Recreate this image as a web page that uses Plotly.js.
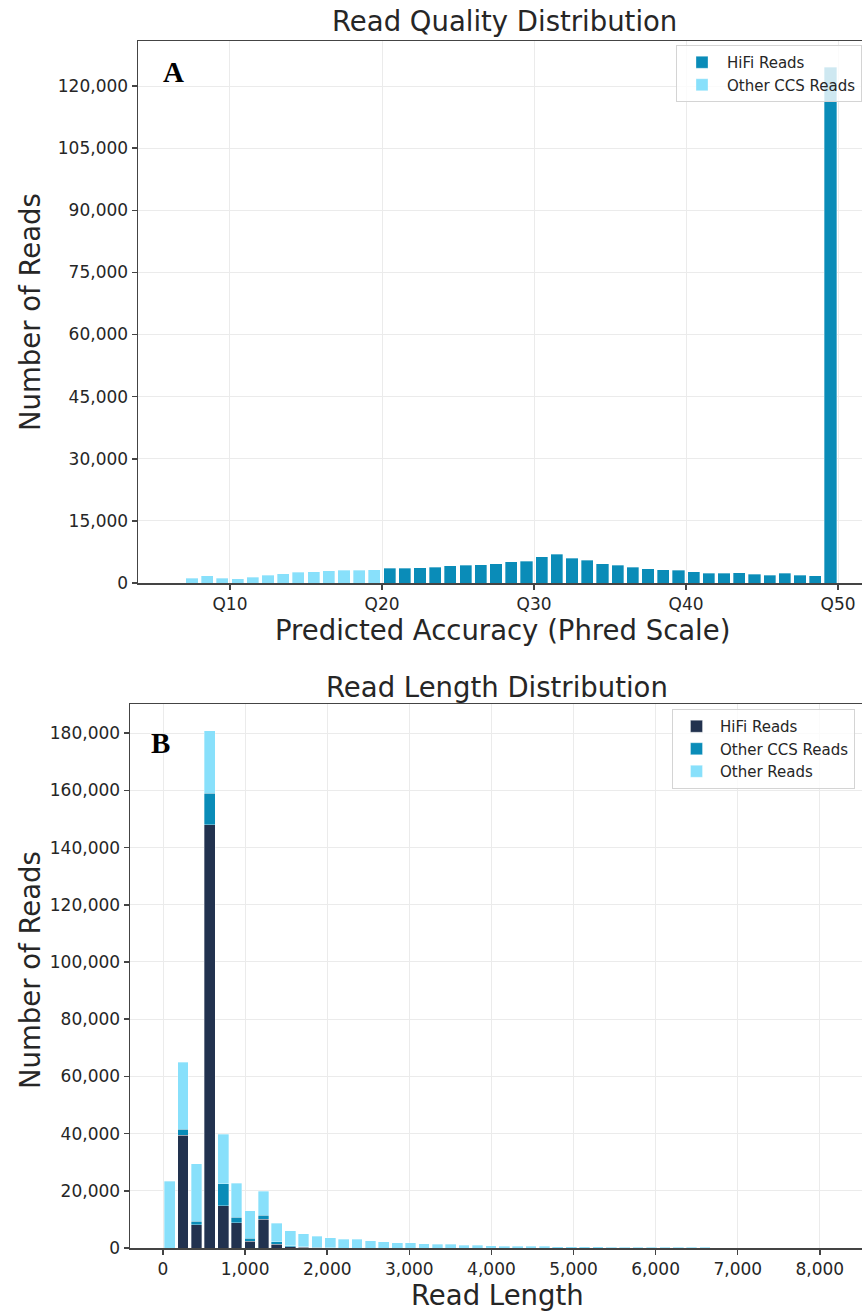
<!DOCTYPE html>
<html>
<head>
<meta charset="utf-8">
<script src="https://cdn.plot.ly/plotly-3.0.1.min.js"></script>
<style>
  html, body { margin: 0; padding: 0; overflow: hidden; background: #ffffff; }
  #chart { width: 880px; height: 1311px; }
</style>
</head>
<body>
<div id="chart"></div>
<script>
// ---- Panel A: read quality (Phred) histogram, one bin per Q value ----
const qOtherCcsBins = [7, 8, 9, 10, 11, 12, 13, 14, 15, 16, 17, 18, 19];
const qOtherCcsCounts = [1200, 1700, 1130, 1050, 1370, 1930, 2250, 2580, 2660, 2900, 3060, 3140, 3220];

const qHifiBins = [20, 21, 22, 23, 24, 25, 26, 27, 28, 29, 30, 31, 32, 33, 34,
                   35, 36, 37, 38, 39, 40, 41, 42, 43, 44, 45, 46, 47, 48, 49];
const qHifiCounts = [3540, 3540, 3700, 3860, 4190, 4270, 4350, 4700, 5150, 5310,
                     6280, 6920, 5960, 5470, 4670, 4270, 3860, 3460, 3220, 3060,
                     2660, 2410, 2410, 2490, 2090, 1850, 2330, 1930, 1770, 124500];

const qTickVals = [10, 20, 30, 40, 50];
const qTickText = ['Q10', 'Q20', 'Q30', 'Q40', 'Q50'];

// ---- Panel B: read length histogram (bins of equal width, stacked by read class) ----
const lengthBinWidth = 163;
const lenHifiCounts = [0, 39400, 8150, 147900, 14700, 8850, 2330, 10000, 1300, 500,
                       250, 150, 100, 0, 0, 0, 0, 0, 0, 0,
                       0, 0, 0, 0, 0, 0, 0, 0, 0, 0,
                       0, 0, 0, 0, 0, 0, 0, 0, 0, 0,
                       0, 0, 0, 0];
const lenOtherCcsCounts = [0, 2200, 1290, 11100, 7800, 1850, 1070, 1400, 800, 300,
                           150, 100, 0, 0, 0, 0, 0, 0, 0, 0,
                           0, 0, 0, 0, 0, 0, 0, 0, 0, 0,
                           0, 0, 0, 0, 0, 0, 0, 0, 0, 0,
                           0, 0, 0, 0];
const lenOtherReadCounts = [23400, 23300, 20060, 21800, 17250, 11900, 9600, 8500, 6640, 5250,
                            4500, 3830, 3400, 3030, 3030, 2560, 2100, 1860, 1750, 1520,
                            1400, 1280, 1050, 930, 820, 700, 700, 580, 580, 470,
                            470, 420, 400, 350, 330, 300, 280, 250, 230, 200,
                            180, 160, 140, 120];

// ---- styling ----
const COL_NAVY = '#22324f';
const COL_TEAL = '#0a8cb8';
const COL_LIGHT = '#88e0fb';
const FONT = 'DejaVu Sans, Verdana, sans-serif';
const TXT = '#262626';
const W = 880, H = 1311;

const px = v => v / W;            // horizontal pixel -> paper fraction
const py = v => 1 - v / H;        // vertical pixel (from top) -> paper fraction

const binCentre = (bins) => bins.map(b => b + 0.5);
const lenCentres = lenOtherReadCounts.map((_, i) => (i + 0.5) * lengthBinWidth);
const barEdge = { color: 'rgba(255,255,255,0.55)', width: 0.6 };

const traces = [
  { type: 'bar', name: 'HiFi Reads', x: binCentre(qHifiBins), y: qHifiCounts,
    width: 0.8, marker: { color: COL_TEAL, line: barEdge },
    xaxis: 'x', yaxis: 'y', legend: 'legend', hoverinfo: 'x+y' },
  { type: 'bar', name: 'Other CCS Reads', x: binCentre(qOtherCcsBins), y: qOtherCcsCounts,
    width: 0.8, marker: { color: COL_LIGHT, line: barEdge },
    xaxis: 'x', yaxis: 'y', legend: 'legend', hoverinfo: 'x+y' },

  { type: 'bar', name: 'HiFi Reads', x: lenCentres, y: lenHifiCounts,
    width: 0.8 * lengthBinWidth, marker: { color: COL_NAVY, line: barEdge },
    xaxis: 'x2', yaxis: 'y2', legend: 'legend2', hoverinfo: 'x+y' },
  { type: 'bar', name: 'Other CCS Reads', x: lenCentres, y: lenOtherCcsCounts,
    width: 0.8 * lengthBinWidth, marker: { color: COL_TEAL, line: barEdge },
    xaxis: 'x2', yaxis: 'y2', legend: 'legend2', hoverinfo: 'x+y' },
  { type: 'bar', name: 'Other Reads', x: lenCentres, y: lenOtherReadCounts,
    width: 0.8 * lengthBinWidth, marker: { color: COL_LIGHT, line: barEdge },
    xaxis: 'x2', yaxis: 'y2', legend: 'legend2', hoverinfo: 'x+y' }
];

const axisCommon = {
  showline: true, mirror: true, linecolor: '#444444', linewidth: 1.5,
  ticks: 'outside', ticklen: 5, tickwidth: 1.5, tickcolor: '#444444',
  showgrid: true, gridcolor: '#ebebeb', gridwidth: 1, zeroline: false,
  tickfont: { family: FONT, size: 17, color: TXT }
};

const legendCommon = {
  xanchor: 'left', yanchor: 'top', traceorder: 'normal',
  bgcolor: 'rgba(255,255,255,0.8)', bordercolor: '#d4d4d4', borderwidth: 1,
  font: { family: FONT, size: 15, color: TXT }
};

const TITLE_SIZE = 27.5;

const layout = {
  width: W, height: H,
  margin: { l: 0, r: 0, t: 0, b: 0 },
  paper_bgcolor: '#ffffff', plot_bgcolor: '#ffffff',
  barmode: 'stack', bargap: 0,
  font: { family: FONT, color: TXT },
  xaxis: Object.assign({}, axisCommon, {
    domain: [px(138), px(870)], range: [3.95, 52.1],
    tickvals: qTickVals, ticktext: qTickText, anchor: 'y'
  }),
  yaxis: Object.assign({}, axisCommon, {
    domain: [py(583), py(41)], range: [0, 130870],
    dtick: 15000, tickformat: ',d', anchor: 'x'
  }),
  xaxis2: Object.assign({}, axisCommon, {
    domain: [px(130), px(865)], range: [-402, 8550],
    dtick: 1000, tickformat: ',d', anchor: 'y2'
  }),
  yaxis2: Object.assign({}, axisCommon, {
    domain: [py(1248), py(704)], range: [0, 190200],
    dtick: 20000, tickformat: ',d', anchor: 'x2'
  }),
  legend: Object.assign({}, legendCommon, { x: px(676), y: py(45), itemwidth: 40 }),
  legend2: Object.assign({}, legendCommon, { x: px(672), y: py(709), itemwidth: 37 }),
  annotations: [
    { text: 'Read Quality Distribution', x: px(504), y: py(21), xref: 'paper', yref: 'paper',
      xanchor: 'center', yanchor: 'middle', showarrow: false,
      font: { family: FONT, size: TITLE_SIZE, color: TXT } },
    { text: 'Predicted Accuracy (Phred Scale)', x: px(503), y: py(630), xref: 'paper', yref: 'paper',
      xanchor: 'center', yanchor: 'middle', showarrow: false,
      font: { family: FONT, size: TITLE_SIZE, color: TXT } },
    { text: 'Number of Reads', x: px(30), y: py(312), xref: 'paper', yref: 'paper',
      xanchor: 'center', yanchor: 'middle', textangle: -90, showarrow: false,
      font: { family: FONT, size: TITLE_SIZE, color: TXT } },
    { text: '<b>A</b>', x: px(173), y: py(72), xref: 'paper', yref: 'paper',
      xanchor: 'center', yanchor: 'middle', showarrow: false,
      font: { family: 'Liberation Serif, Times New Roman, serif', size: 29, color: '#000000' } },

    { text: 'Read Length Distribution', x: px(497), y: py(687), xref: 'paper', yref: 'paper',
      xanchor: 'center', yanchor: 'middle', showarrow: false,
      font: { family: FONT, size: TITLE_SIZE, color: TXT } },
    { text: 'Read Length', x: px(497), y: py(1295), xref: 'paper', yref: 'paper',
      xanchor: 'center', yanchor: 'middle', showarrow: false,
      font: { family: FONT, size: TITLE_SIZE, color: TXT } },
    { text: 'Number of Reads', x: px(30), y: py(970), xref: 'paper', yref: 'paper',
      xanchor: 'center', yanchor: 'middle', textangle: -90, showarrow: false,
      font: { family: FONT, size: TITLE_SIZE, color: TXT } },
    { text: '<b>B</b>', x: px(160), y: py(743), xref: 'paper', yref: 'paper',
      xanchor: 'center', yanchor: 'middle', showarrow: false,
      font: { family: 'Liberation Serif, Times New Roman, serif', size: 29, color: '#000000' } }
  ]
};

Plotly.newPlot('chart', traces, layout, { displayModeBar: false, staticPlot: true });
</script>
</body>
</html>
